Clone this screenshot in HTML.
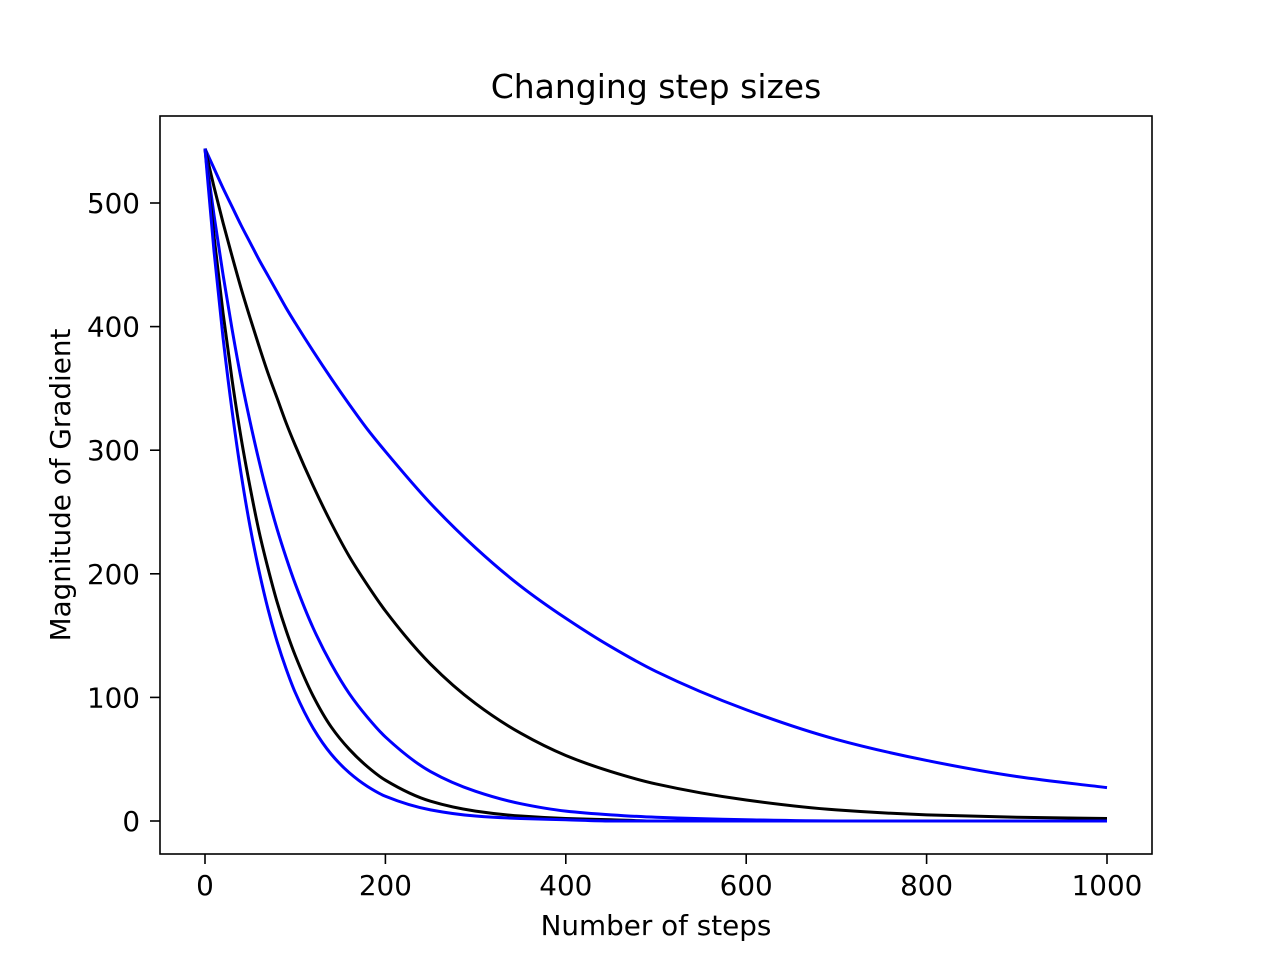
<!DOCTYPE html>
<html><head><meta charset="utf-8"><style>
html,body{margin:0;padding:0;background:#fff;}
svg text{font-family:"DejaVu Sans","Liberation Sans",sans-serif;fill:#000;}
</style></head><body>
<svg id="chart" width="1280" height="960" xmlns="http://www.w3.org/2000/svg">
<rect x="0" y="0" width="1280" height="960" fill="#fff"/>
<text x="656" y="98" font-size="33" text-anchor="middle">Changing step sizes</text>
<g id="plot"></g>
<rect x="160" y="116" width="992" height="738" fill="none" stroke="#000" stroke-width="1.6"/>
<text x="656" y="935" font-size="27.8" text-anchor="middle">Number of steps</text>
<text transform="translate(70,485) rotate(-90)" font-size="27.8" text-anchor="middle">Magnitude of Gradient</text>
</svg>
<script>
const steps = [0,10,20,30,40,50,60,70,80,90,100,120,140,160,180,200,250,300,350,400,450,500,600,700,800,900,1000];
const seriesA = [544,528,512,497,482,468,454,441,428,415,403,380,358,337,317,299,257,221,190,164,141,121,90,66,49,36,27];
const seriesB = [544,513,484,457,431,407,384,362,342,322,304,271,241,214,191,170,127,95,71,53,40,30,17,9,5,3,2];
const seriesC = [544,490,442,398,358,323,291,262,236,213,192,156,127,103,84,68,40,24,14,8,5,3,1,0,0,0,0];
const seriesD = [544,473,411,357,310,270,234,204,177,154,134,101,76,58,44,33,16,8,4,2,1,0,0,0,0,0,0];
const seriesE = [544,461,391,332,281,238,202,171,145,123,104,75,54,39,28,20,9,4,2,1,0,0,0,0,0,0,0];
const seriesColors = ['#0000ff','#000000','#0000ff','#000000','#0000ff'];
const xTicks = [0,200,400,600,800,1000];
const yTicks = [0,100,200,300,400,500];

const NS='http://www.w3.org/2000/svg';
const plot=document.getElementById('plot');
const xs=v=>205+v*0.902;
const ys=v=>821-v*1.236;

[seriesA,seriesB,seriesC,seriesD,seriesE].forEach((s,i)=>{
  const pts=s.map((v,j)=>[xs(steps[j]),ys(v)]);
  const n=pts.length;
  const dx=[],m=[];
  for(let j=0;j<n-1;j++){dx.push(pts[j+1][0]-pts[j][0]);m.push((pts[j+1][1]-pts[j][1])/dx[j]);}
  const t=[m[0]];
  for(let j=1;j<n-1;j++){
    if(m[j-1]*m[j]<=0)t.push(0);
    else{const w1=2*dx[j]+dx[j-1],w2=dx[j]+2*dx[j-1];t.push((w1+w2)/(w1/m[j-1]+w2/m[j]));}
  }
  t.push(m[n-2]);
  let d='M'+pts[0][0]+','+pts[0][1];
  for(let j=0;j<n-1;j++){
    const h=dx[j]/3;
    d+=' C'+(pts[j][0]+h)+','+(pts[j][1]+t[j]*h)+' '+(pts[j+1][0]-h)+','+(pts[j+1][1]-t[j+1]*h)+' '+pts[j+1][0]+','+pts[j+1][1];
  }
  const p=document.createElementNS(NS,'path');
  p.setAttribute('d',d);
  p.setAttribute('fill','none');
  p.setAttribute('stroke',seriesColors[i]);
  p.setAttribute('stroke-width','3');
  p.setAttribute('stroke-linejoin','round');
  
  
  plot.appendChild(p);
});
xTicks.forEach(t=>{
  const l=document.createElementNS(NS,'line');
  l.setAttribute('x1',xs(t));l.setAttribute('x2',xs(t));
  l.setAttribute('y1',854);l.setAttribute('y2',864);
  l.setAttribute('stroke','#000');l.setAttribute('stroke-width','1.6');
  
  
  plot.appendChild(l);
  const tx=document.createElementNS(NS,'text');
  tx.setAttribute('x',xs(t));tx.setAttribute('y',895);
  tx.setAttribute('font-size','27.8');tx.setAttribute('text-anchor','middle');
  tx.textContent=t;
  
  
  plot.appendChild(tx);
});
yTicks.forEach(t=>{
  const l=document.createElementNS(NS,'line');
  l.setAttribute('x1',150);l.setAttribute('x2',160);
  l.setAttribute('y1',ys(t));l.setAttribute('y2',ys(t));
  l.setAttribute('stroke','#000');l.setAttribute('stroke-width','1.6');
  
  
  plot.appendChild(l);
  const tx=document.createElementNS(NS,'text');
  tx.setAttribute('x',140);tx.setAttribute('y',ys(t)+10);
  tx.setAttribute('font-size','27.8');tx.setAttribute('text-anchor','end');
  tx.textContent=t;
  
  
  plot.appendChild(tx);
});
</script>
</body></html>
